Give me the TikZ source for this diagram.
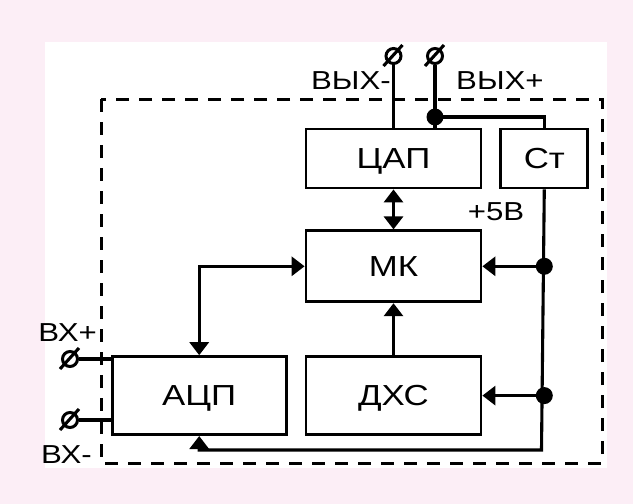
\documentclass[tikz,border=0pt]{standalone}
\usepackage{fontspec}
\setmainfont{Liberation Sans}[FakeStretch=1.2]
\usepackage{xcolor}
\usetikzlibrary{arrows.meta,positioning}
\definecolor{pagepink}{RGB}{252,238,246}
\tikzset{
  block/.style={rectangle, draw=black, fill=white, line width=2.8pt,
                align=center, font=\fontsize{29}{29}\selectfont,
                text height=20pt, text depth=0pt, inner sep=0pt},
  wire/.style={line width=3.1pt},
  arrow/.style={wire, -{Triangle[length=13pt,width=19pt]}},
  darrow/.style={wire, {Triangle[length=13pt,width=19pt]}-{Triangle[length=13pt,width=19pt]}},
  dot/.style={circle, fill=black, minimum size=17pt, inner sep=0pt},
  term/.style={circle, draw=black, line width=3pt, minimum size=15pt, inner sep=0pt},
  lbl/.style={font=\fontsize{26}{26}\selectfont, inner sep=0pt},
  frame/.style={line width=3pt, dash pattern=on 13pt off 10pt},
}

\begin{document}
\begin{tikzpicture}[x=1pt, y=-1pt]
  \useasboundingbox (0,0) rectangle (633,504);
  \fill[pagepink] (0,0) rectangle (633,504);
  \fill[white] (45,42) rectangle (607,468);
  \draw[frame] (101,99) rectangle (602,463);

  \node[block, minimum width=175pt, minimum height=59pt] (dac) at (393.5,158.5) {ЦАП};
  \node[block, minimum width=87pt, minimum height=59pt, right=17pt of dac] (st) {Ст};
  \node[block, minimum width=175pt, minimum height=71pt, below=40pt of dac] (mcu) {МК};
  \node[block, minimum width=175pt, minimum height=78pt, below=52pt of mcu] (dhs) {ДХС};
  \node[block, minimum width=174pt, minimum height=78pt, left=17pt of dhs] (adc) {АЦП};

  \node[term] (outm) at (393.5,56) {};
  \node[term] (outp) at (435,56) {};
  \node[term] (inp) at (70,359) {};
  \node[term] (inm) at (70,420) {};
  \foreach \t in {outm,outp,inp,inm}
    \draw[wire] ([shift={(-10,10)}]\t.center) -- ([shift={(9,-11)}]\t.center);

  \coordinate (bus) at (541.5,450);
  \node[dot] (jo) at (435,117) {};
  \node[dot] (j1) at (st.south |- mcu.east) {};
  \node[dot] (j2) at (st.south |- dhs.east) {};

  \node[lbl, anchor=east] (loutm) at (391,81) {ВЫХ-};
  \node[lbl, anchor=west] (loutp) at (456,81) {ВЫХ+};
  \node[lbl] (lpow) at (496,212) {+5В};
  \node[lbl, anchor=east] (linp) at (97,333) {ВХ+};
  \node[lbl, anchor=east] (linm) at (92,455) {ВХ-};

  \draw[wire] (outm) -- (outm |- dac.north);
  \draw[wire] (outp) -- (outp |- dac.north);
  \draw[wire] (st.north) |- (jo.center);
  \draw[wire] (inp) -- (inp -| adc.west);
  \draw[wire] (inm) -- (inm -| adc.west);
  \draw[darrow] (dac.south) -- (mcu.north);
  \draw[arrow] (dhs.north) -- (mcu.south);
  \draw[darrow] (adc.north) |- (mcu.west);
  \draw[arrow] (j1.center) -- (mcu.east);
  \draw[arrow] (j2.center) -- (dhs.east);
  \draw[arrow] (st.south) -- (bus) -| (adc.south);
\end{tikzpicture}
\end{document}
